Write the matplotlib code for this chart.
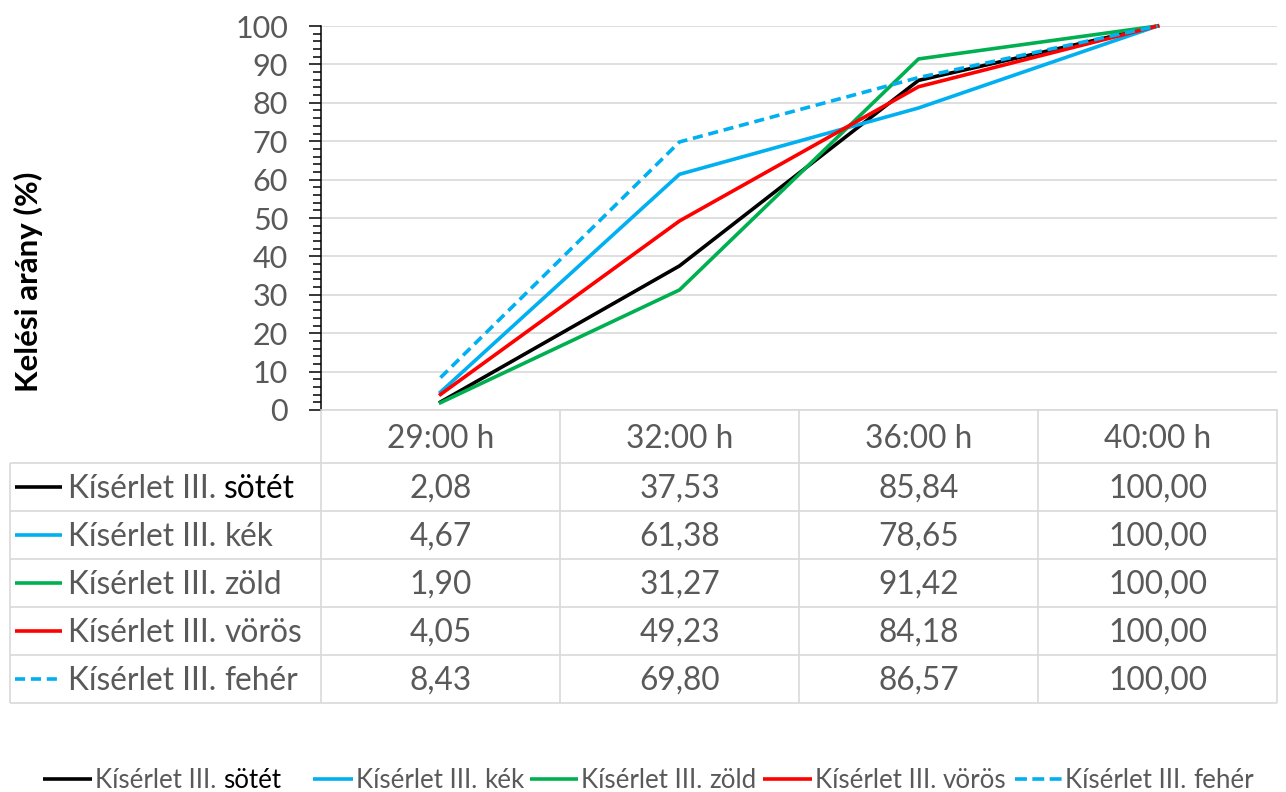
import matplotlib
matplotlib.use('Agg')
import matplotlib.pyplot as plt
from matplotlib.ticker import MultipleLocator

# adatok
idopontok = ['29:00 h', '32:00 h', '36:00 h', '40:00 h']
sotet = [2.08, 37.53, 85.84, 100.00]
kek = [4.67, 61.38, 78.65, 100.00]
zold = [1.90, 31.27, 91.42, 100.00]
voros = [4.05, 49.23, 84.18, 100.00]
feher = [8.43, 69.80, 86.57, 100.00]

elotag = 'Kísérlet III. '
nevek = ['sötét', 'kék', 'zöld', 'vörös', 'fehér']
sorok = [sotet, kek, zold, voros, feher]

SZURKE = '#595959'
RACS = '#D9D9D9'
szinek = ['#000000', '#00B0F0', '#00B050', '#FF0000', '#00B0F0']
vonalak = ['-', '-', '-', '-', (0, (2.8, 1.6))]
nev_szin = ['#000000', SZURKE, SZURKE, SZURKE, SZURKE]
LW = 2.6

plt.rcParams['font.family'] = ['Lato', 'DejaVu Sans']

W, H = 1286, 792
fig = plt.figure(figsize=(W / 100, H / 100), dpi=100)

# rajzterület pixelben
bal, jobb, fent, lent = 321, 1277, 26, 410
ax = fig.add_axes([bal / W, 1 - lent / H, (jobb - bal) / W, (lent - fent) / H])
ax.set_zorder(2)
ax.patch.set_visible(False)

# pixeles réteg a táblázathoz és jelmagyarázathoz
lap = fig.add_axes([0, 0, 1, 1])
lap.set_xlim(0, W)
lap.set_ylim(H, 0)
lap.axis('off')
lap.set_zorder(1)

x = range(len(idopontok))
for vals, c, ls in zip(sorok, szinek, vonalak):
    ax.plot(x, vals, color=c, lw=LW, ls=ls, solid_joinstyle='round',
            dash_capstyle='butt', clip_on=False, zorder=3)

ax.set_xlim(-0.5, len(idopontok) - 0.5)
ax.set_ylim(0, 100)
ax.yaxis.set_major_locator(MultipleLocator(10))
ax.yaxis.set_minor_locator(MultipleLocator(2))
ax.set_xticks([])
ax.tick_params(axis='y', which='major', length=8.6, width=1.1, color='black',
               labelsize=22, labelcolor=SZURKE, pad=15)
ax.tick_params(axis='y', which='minor', length=5.5, width=1.1, color='black')
ax.grid(axis='y', which='major', color=RACS, lw=1.2)
ax.set_axisbelow(True)
for s in ['top', 'right']:
    ax.spines[s].set_visible(False)
ax.spines['left'].set_color('black')
ax.spines['left'].set_linewidth(1.1)
ax.spines['bottom'].set_color(RACS)
ax.spines['bottom'].set_linewidth(1.2)

fig.text(28 / W, 1 - 282 / H, 'Kelési arány (%)', rotation=90, ha='center',
         va='center', fontsize=22.5, fontweight='bold', color='black')

# adattáblázat
r = fig.canvas.get_renderer()
tabla_bal = 10
fejlec_also = 463
sor_mag = 48
oszlop = (jobb - bal) / len(idopontok)
tabla_also = fejlec_also + sor_mag * len(sorok)
fs = 22.8
kw = dict(color=RACS, lw=1.2, solid_capstyle='butt')

for i in range(len(sorok) + 1):
    y = fejlec_also + i * sor_mag
    lap.plot([tabla_bal, jobb], [y, y], **kw)
lap.plot([tabla_bal, tabla_bal], [fejlec_also, tabla_also], **kw)
for j in range(len(idopontok) + 1):
    xx = bal + j * oszlop
    lap.plot([xx, xx], [lent, tabla_also], **kw)

for j, lab in enumerate(idopontok):
    lap.text(bal + (j + 0.5) * oszlop, (lent + fejlec_also) / 2 + 11, lab,
             ha='center', va='baseline', fontsize=fs, color=SZURKE)


def ket_szin(xk, yb, nev, szin, meret):
    teljes = lap.text(xk, yb, elotag + nev, fontsize=meret, va='baseline')
    w = teljes.get_window_extent(r).width
    teljes.remove()
    lap.text(xk, yb, elotag, fontsize=meret, va='baseline', color=SZURKE)
    lap.text(xk + w, yb, nev, fontsize=meret, va='baseline', ha='right', color=szin)
    return w


for i, (vals, nev) in enumerate(zip(sorok, nevek)):
    yc = fejlec_also + (i + 0.5) * sor_mag
    lap.plot([15, 62], [yc, yc], color=szinek[i], lw=LW, ls=vonalak[i],
             dash_capstyle='butt', solid_capstyle='butt')
    ket_szin(68, yc + 11, nev, nev_szin[i], fs)
    for j, v in enumerate(vals):
        lap.text(bal + (j + 0.5) * oszlop, yc + 11, f'{v:.2f}'.replace('.', ','),
                 ha='center', va='baseline', fontsize=fs, color=SZURKE)

# jelmagyarázat alul
lfs = 18.6
ly = 779
jel_kezd = [43, 313, 530, 763, 1015]
jel_hossz = [49, 40, 48, 49, 47]
for i, nev in enumerate(nevek):
    xk = jel_kezd[i]
    lap.plot([xk, xk + jel_hossz[i]], [ly, ly], color=szinek[i], lw=LW,
             ls=(0, (3.3, 1.5)) if i == 4 else '-',
             dash_capstyle='butt', solid_capstyle='butt')
    ket_szin(xk + jel_hossz[i] + 3, ly + 9, nev, nev_szin[i], lfs)

fig.savefig('out.png', dpi=100)
